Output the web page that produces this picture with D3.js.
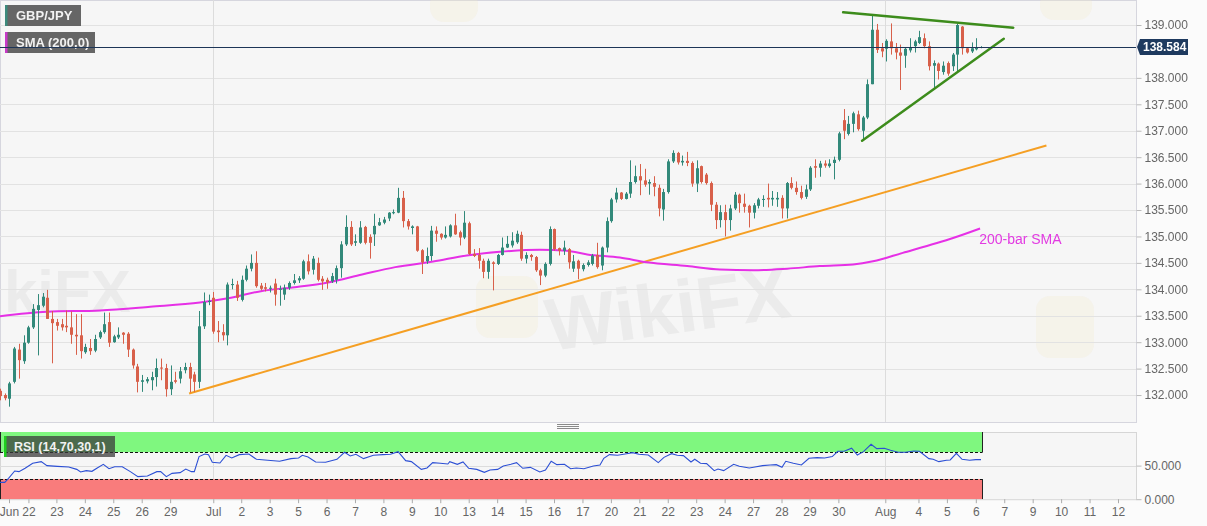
<!DOCTYPE html>
<html>
<head>
<meta charset="utf-8">
<title>GBP/JPY 4H</title>
<script src="https://cdn.jsdelivr.net/npm/d3@7"></script>
<style>
  body { margin: 0; background: #fbfbfb; }
  svg { display: block; font-family: Arial, "Liberation Sans", sans-serif; }
</style>
</head>
<body>
<svg id="chart" width="1207" height="526"></svg>
<script>
// 4H candles, [open, high, low, close]
const candles = [
  [132.08,132.12,131.90,131.98],[132.00,132.03,131.90,131.94],[131.93,132.25,131.78,132.22],[132.25,132.91,132.22,132.88],
  [132.86,132.97,132.31,132.66],[132.64,133.13,132.59,132.99],[132.99,133.31,132.97,133.28],[133.28,133.72,133.25,133.63],
  [133.61,133.91,132.75,133.70],[133.69,133.93,133.66,133.86],[133.84,133.99,133.44,133.44],[133.44,133.59,132.60,133.36],
  [133.38,133.44,133.22,133.31],[133.34,133.44,133.22,133.28],[133.31,133.60,133.19,133.28],[133.28,133.58,132.97,133.14],
  [133.14,133.53,132.76,133.11],[133.13,133.53,132.69,132.83],[132.81,132.97,132.78,132.91],[132.89,133.06,132.76,132.83],
  [132.84,133.14,132.81,133.06],[133.09,133.22,133.06,133.19],[133.19,133.56,133.16,133.34],[133.38,133.56,132.91,132.99],
  [133.00,133.14,132.99,133.11],[133.09,133.28,133.06,133.14],[133.18,133.19,132.97,133.14],[133.16,133.19,132.72,132.86],
  [132.86,132.88,132.50,132.56],[132.54,132.59,132.05,132.25],[132.25,132.38,132.06,132.28],[132.26,132.34,132.22,132.30],
  [132.28,132.44,132.09,132.34],[132.34,132.69,132.16,132.51],[132.52,132.69,132.28,132.50],[132.51,132.59,131.97,132.11],
  [132.11,132.56,132.00,132.25],[132.28,132.44,132.22,132.25],[132.31,132.53,132.22,132.45],[132.47,132.61,132.41,132.53],
  [132.53,132.61,132.05,132.31],[132.39,132.44,132.06,132.25],[132.25,133.59,132.13,133.30],[133.30,133.94,133.25,133.76],
  [133.76,133.90,133.70,133.78],[133.84,133.95,133.16,133.20],[133.22,133.40,133.00,133.19],[133.19,133.34,133.03,133.13],
  [133.13,134.13,132.94,134.09],[134.08,134.20,134.00,134.10],[134.09,134.16,133.78,133.84],[133.80,134.26,133.77,134.18],
  [134.18,134.45,134.15,134.39],[134.39,134.66,134.34,134.50],[134.50,134.72,134.03,134.06],[134.07,134.12,133.98,134.01],
  [134.04,134.12,133.96,134.01],[134.01,134.07,133.94,134.03],[134.11,134.20,133.69,133.90],[134.00,134.07,133.69,134.01],
  [133.90,134.09,133.80,134.03],[134.03,134.15,133.99,134.12],[134.12,134.29,134.09,134.17],[134.17,134.25,134.12,134.21],
  [134.20,134.56,134.18,134.53],[134.53,134.66,134.28,134.34],[134.37,134.63,134.28,134.58],[134.50,134.60,134.15,134.18],
  [134.20,134.25,133.99,134.15],[134.18,134.22,134.01,134.13],[134.15,134.31,134.12,134.25],[134.18,134.45,134.11,134.40],
  [134.40,134.91,134.22,134.85],[134.85,135.40,134.82,135.18],[135.18,135.29,134.82,134.85],[134.88,135.04,134.82,134.91],
  [134.88,135.29,134.86,135.17],[135.18,135.20,134.85,134.88],[134.99,135.04,134.58,134.88],[135.04,135.43,134.82,135.20],
  [135.21,135.35,135.20,135.27],[135.26,135.37,135.23,135.32],[135.34,135.46,135.29,135.45],[135.44,135.51,135.42,135.46],
  [135.45,135.92,135.44,135.73],[135.73,135.86,135.17,135.29],[135.29,135.33,135.13,135.19],[135.16,135.21,135.04,135.19],
  [135.19,135.20,134.71,134.73],[134.74,134.76,134.29,134.51],[134.53,134.79,134.48,134.63],[134.63,135.20,134.54,135.11],
  [135.11,135.19,134.90,135.05],[135.05,135.06,134.94,134.98],[134.98,135.19,134.96,135.03],[135.00,135.23,134.98,135.21],
  [135.21,135.43,135.03,135.04],[135.08,135.11,134.83,134.98],[134.98,135.48,134.95,135.26],[135.25,135.28,134.65,134.67],
  [134.67,134.76,134.61,134.63],[134.65,134.78,134.39,134.54],[134.54,134.58,134.21,134.33],[134.33,134.58,134.20,134.54],
  [134.51,134.53,133.98,134.48],[134.48,134.67,134.46,134.65],[134.65,134.98,134.64,134.79],[134.79,135.01,134.78,134.86],
  [134.83,135.08,134.79,134.92],[134.89,135.11,134.86,135.05],[135.03,135.09,134.54,134.58],[134.58,134.70,134.49,134.65],
  [134.65,134.67,134.54,134.61],[134.61,134.63,134.33,134.36],[134.36,134.39,134.08,134.26],[134.26,134.51,134.23,134.48],
  [134.48,135.19,134.45,135.14],[135.14,135.15,134.73,134.76],[134.78,134.79,134.64,134.73],[134.73,134.92,134.65,134.79],
  [134.76,134.78,134.39,134.51],[134.39,134.65,134.33,134.53],[134.54,134.56,134.19,134.39],[134.38,134.49,134.34,134.46],
  [134.46,134.55,134.43,134.51],[134.48,134.67,134.45,134.64],[134.65,134.88,134.39,134.42],[134.45,134.81,134.36,134.79],
  [134.79,135.36,134.70,135.29],[135.29,135.73,135.26,135.70],[135.70,135.92,135.64,135.83],[135.83,135.84,135.69,135.71],
  [135.71,135.84,135.70,135.81],[135.81,136.44,135.73,136.03],[136.03,136.34,136.00,136.14],[136.14,136.37,135.78,136.06],
  [136.06,136.28,135.94,135.98],[136.00,136.08,135.79,136.03],[136.01,136.14,135.76,135.94],[135.92,135.98,135.38,135.53],
  [135.51,135.90,135.30,135.84],[135.84,136.46,135.81,136.42],[136.42,136.63,136.39,136.58],[136.58,136.60,136.36,136.40],
  [136.40,136.53,136.34,136.43],[136.43,136.60,136.33,136.39],[136.39,136.42,135.94,136.00],[136.00,136.44,135.84,136.29],
  [136.33,136.34,136.00,136.03],[136.17,136.20,135.98,136.01],[136.01,136.04,135.48,135.60],[135.60,135.65,135.14,135.31],
  [135.31,135.59,135.17,135.46],[135.46,135.60,135.00,135.31],[135.31,135.60,135.11,135.53],[135.53,135.84,135.50,135.79],
  [135.79,135.81,135.45,135.63],[135.62,135.81,135.45,135.56],[135.58,135.60,135.17,135.45],[135.45,135.63,135.34,135.59],
  [135.58,135.73,135.53,135.70],[135.69,135.78,135.56,135.71],[135.73,136.00,135.55,135.70],[135.70,135.86,135.58,135.73],
  [135.70,135.84,135.56,135.73],[135.73,135.78,135.34,135.53],[135.53,136.03,135.34,136.01],[136.01,136.12,135.89,135.92],
  [135.92,136.04,135.79,135.84],[135.84,135.96,135.70,135.73],[135.75,135.98,135.71,135.89],[135.89,136.33,135.86,136.30],
  [136.33,136.46,136.11,136.30],[136.30,136.43,136.13,136.38],[136.38,136.44,136.30,136.34],[136.33,136.46,136.30,136.38],
  [136.39,136.51,136.08,136.45],[136.45,136.98,136.42,136.95],[137.20,137.41,136.84,137.00],[136.94,137.28,136.91,137.13],
  [137.13,137.36,136.97,137.33],[137.31,137.38,137.00,137.03],[137.00,137.28,136.84,137.25],[137.25,137.97,137.22,137.88],
  [137.88,139.19,137.88,138.91],[138.91,139.02,138.47,138.53],[138.56,138.66,138.39,138.50],[138.55,138.73,138.31,138.70],
  [138.69,139.03,138.44,138.56],[138.56,138.66,138.35,138.48],[138.48,138.63,137.77,138.42],[138.42,138.58,138.19,138.55],
  [138.52,138.75,138.48,138.58],[138.60,138.72,138.48,138.69],[138.66,138.89,138.64,138.77],[138.75,138.84,138.56,138.60],
  [138.60,138.69,138.14,138.22],[138.23,138.33,137.81,138.28],[138.27,138.29,137.97,138.13],[138.11,138.31,138.06,138.23],
  [138.28,138.31,138.04,138.08],[138.22,138.47,138.13,138.44],[138.44,139.03,138.13,139.00],[138.97,138.98,138.44,138.56],
  [138.56,138.58,138.46,138.48],[138.50,138.67,138.47,138.56],[138.54,138.75,138.52,138.58],[138.58,138.60,138.56,138.584]
];

// 200-bar SMA, [bar, value]
const sma200 = [
  [0,133.49],[9.9,133.575],[21.1,133.6],[31.7,133.67],[42.2,133.75],[48.1,133.83],[55.3,133.97],[62.2,134.04],
  [69.2,134.13],[76.4,134.28],[83.4,134.42],[91.4,134.525],[98.5,134.64],[105.5,134.71],[113.9,134.75],[119.6,134.73],
  [123.9,134.66],[130.8,134.6],[136.5,134.51],[145.0,134.44],[151.9,134.375],[158.9,134.36],[166.1,134.39],[173.0,134.44],
  [180.0,134.47],[184.2,134.53],[190.5,134.69],[197.7,134.875],[201.1,134.97],[206.8,135.15]
];

// RSI(14), [bar, value]
const rsi = [
  [0,25.1],[1.0,25.1],[1.8,31.1],[3.1,42.0],[4.0,41.0],[5.3,46.0],[6.9,53.4],[8.7,55.9],[9.9,49.9],[12.1,48.9],
  [14.5,47.9],[16.2,44.4],[17.0,40.5],[18.2,42.5],[19.4,41.5],[20.6,46.9],[21.8,51.9],[23.0,45.4],[24.2,48.4],[25.8,48.4],
  [27.5,41.0],[29.1,33.6],[31.1,34.6],[33.1,41.0],[33.9,41.0],[35.1,33.6],[36.3,38.5],[38.0,39.5],[39.2,44.9],[40.4,41.0],
  [41.0,41.0],[42.0,63.4],[43.2,67.3],[44.0,66.3],[44.8,54.9],[46.4,53.9],[47.7,65.3],[48.9,61.4],[50.5,66.3],[52.5,67.3],
  [54.1,59.4],[56.5,57.9],[59.0,56.4],[61.4,60.4],[63.0,61.4],[63.8,65.3],[65.0,62.8],[66.6,55.4],[68.7,54.9],[71.1,59.4],
  [72.7,69.8],[73.9,64.4],[75.1,66.8],[76.7,60.4],[78.8,65.3],[80.8,66.3],[82.4,66.8],[84.0,70.8],[85.6,57.4],[86.8,55.9],
  [88.9,44.4],[90.1,46.4],[91.3,54.4],[92.9,53.4],[94.5,52.4],[94.9,55.9],[96.5,51.9],[97.7,55.4],[98.9,46.0],[100.6,44.4],
  [102.2,40.0],[103.4,43.5],[105.0,44.4],[106.2,49.4],[107.8,51.9],[109.0,54.4],[110.3,46.0],[111.9,47.4],[113.9,40.5],[115.1,43.5],
  [116.3,56.4],[117.5,51.4],[119.1,51.9],[120.4,45.4],[121.6,46.4],[123.2,45.4],[125.2,49.4],[126.6,50.9],[127.4,60.9],[128.6,66.3],
  [130.3,65.3],[131.9,67.3],[133.5,69.3],[134.8,66.8],[136.8,65.8],[138.9,54.4],[140.1,62.3],[141.7,67.8],[142.9,65.3],[144.2,64.8],
  [145.8,55.4],[146.6,59.4],[147.8,53.4],[149.1,52.9],[150.7,42.5],[151.5,44.9],[152.7,42.5],[154.8,51.9],[156.0,48.9],[158.1,46.4],
  [159.3,47.9],[160.9,49.9],[162.5,50.9],[163.8,51.4],[165.0,47.4],[165.8,56.4],[167.4,53.4],[169.1,50.9],[170.7,60.9],[172.4,61.9],
  [174.0,61.4],[175.6,63.4],[176.8,71.3],[178.1,71.3],[179.7,75.8],[180.9,65.8],[182.2,70.8],[183.8,81.7],[185.0,75.3],[186.6,75.8],
  [187.9,72.8],[189.5,69.8],[191.1,69.8],[192.8,71.8],[194.0,71.3],[196.0,60.4],[196.9,59.4],[198.1,55.9],[199.7,57.9],[200.5,58.4],
  [201.8,68.3],[203.0,59.4],[204.6,57.9],[205.9,58.9],[207.0,58.9]
];

const priceTicks = [132, 132.5, 133, 133.5, 134, 134.5, 135, 135.5, 136, 136.5, 137, 137.5, 138, 139];
const rsiTicks = [0, 50];
const rsiLevels = [70, 30];
const lastPrice = 138.584;

// session labels on the time axis, [label, bar position]
const timeTicks = [
  ["Jun",1.9],["22",6.0],["23",11.9],["24",17.9],["25",23.9],["26",29.9],["29",35.9],["Jul",45.0],["2",50.9],["3",56.9],
  ["5",62.9],["6",68.9],["7",74.9],["8",80.9],["9",86.9],["10",92.9],["13",98.9],["14",104.9],["15",110.9],["16",116.9],
  ["17",122.9],["20",128.9],["21",134.9],["22",140.9],["23",146.9],["24",152.9],["27",158.9],["28",164.9],["29",170.8],["30",176.9],
  ["Aug",186.8],["4",193.8],["5",199.8],["6",205.9],["7",211.9],["9",217.9],["10",223.9],["11",229.9],["12",235.9]
];
const monthStarts = [45.0, 186.8];

// drawn trend lines, [bar, price]
const supportLine = [[39.9,132.03],[220.8,136.72]];
const triangleTop = [[177.9,139.24],[213.8,138.95]];
const triangleBottom = [[181.9,136.81],[211.8,138.74]];

const W = 1136, mainH = 422, rsiTop = 432, rsiBot = 499.2;
const UP = "#32897a", DOWN = "#d8604a";

const svg = d3.select("#chart");
const x = d3.scaleLinear().domain([0, 239.7]).range([0, W]);
const y = d3.scaleLinear().domain([131.49, 139.473]).range([mainH, 0]);
const yr = d3.scaleLinear().domain([0, 100]).range([rsiBot, rsiTop]);

svg.append("rect").attr("width", 1207).attr("height", 526).attr("fill", "#fbfbfb");

const defs = svg.append("defs");
defs.append("clipPath").attr("id", "clipMain").append("rect").attr("width", W).attr("height", mainH);
defs.append("clipPath").attr("id", "clipRsi").append("rect").attr("y", rsiTop).attr("width", W).attr("height", rsiBot - rsiTop);

// panels
svg.append("rect").attr("x", 0.5).attr("y", 0.5).attr("width", W).attr("height", mainH)
  .attr("fill", "#f6f6f6").attr("stroke", "#d6d6de");
svg.append("rect").attr("x", 0.5).attr("y", rsiTop + 0.5).attr("width", W).attr("height", rsiBot - rsiTop)
  .attr("fill", "#f6f6f6").attr("stroke", "#d6d6d6");

const main = svg.append("g").attr("clip-path", "url(#clipMain)");
const low = svg.append("g").attr("clip-path", "url(#clipRsi)");

// faint watermark
const wm = main.append("g").attr("opacity", 0.45);
[[430, -10, 48, 32], [1040, -10, 52, 30], [1036, 296, 58, 62], [476, 276, 62, 62]].forEach(r => {
  wm.append("rect").attr("x", r[0]).attr("y", r[1]).attr("width", r[2]).attr("height", r[3])
    .attr("rx", 14).attr("fill", "#f3e7c6").attr("opacity", 0.55);
});
wm.append("text").attr("x", 545).attr("y", 338).attr("font-size", 74).attr("font-weight", "bold")
  .attr("fill", "#dedede").attr("transform", "rotate(-8 640 310)").text("WikiFX");
wm.append("text").attr("x", 4).attr("y", 312).attr("font-size", 60).attr("font-weight", "bold")
  .attr("fill", "#dedede").text("kiFX");

// grid
main.selectAll(".hg").data(priceTicks).join("line")
  .attr("x1", 0).attr("x2", W).attr("y1", d => Math.round(y(d)) + 0.5).attr("y2", d => Math.round(y(d)) + 0.5)
  .attr("stroke", "#e2e2e2");
main.selectAll(".vg").data(monthStarts).join("line")
  .attr("x1", d => Math.round(x(d)) + 0.5).attr("x2", d => Math.round(x(d)) + 0.5).attr("y1", 0).attr("y2", mainH)
  .attr("stroke", "#dcdcdc");

// trend lines
const line = d3.line().x(d => x(d[0])).y(d => y(d[1]));
main.append("path").attr("d", line(supportLine)).attr("stroke", "#f59f23").attr("stroke-width", 2).attr("fill", "none");

// SMA
main.append("path").datum(sma200).attr("d", line.curve(d3.curveMonotoneX))
  .attr("stroke", "#e630e6").attr("stroke-width", 2).attr("fill", "none");
line.curve(d3.curveLinear);

// candles
const cg = main.append("g");
cg.selectAll("line").data(candles).join("line")
  .attr("x1", (d, i) => Math.round(x(i)) + 0.5).attr("x2", (d, i) => Math.round(x(i)) + 0.5)
  .attr("y1", d => y(d[1])).attr("y2", d => y(d[2]))
  .attr("stroke", d => d[3] >= d[0] ? UP : DOWN).attr("stroke-width", 1);
cg.selectAll("rect").data(candles).join("rect")
  .attr("x", (d, i) => Math.round(x(i)) - 1)
  .attr("width", 3)
  .attr("y", d => y(Math.max(d[0], d[3])))
  .attr("height", d => Math.max(1, Math.abs(y(d[0]) - y(d[3]))))
  .attr("fill", d => d[3] >= d[0] ? UP : DOWN);

// triangle
[triangleTop, triangleBottom].forEach(t => {
  main.append("path").attr("d", line(t)).attr("stroke", "#3d8c1c").attr("stroke-width", 2.5)
    .attr("fill", "none").attr("stroke-linecap", "round");
});

// last price line
main.append("line").attr("x1", 0).attr("x2", W)
  .attr("y1", Math.round(y(lastPrice)) + 0.5).attr("y2", Math.round(y(lastPrice)) + 0.5)
  .attr("stroke", "#1d3557").attr("stroke-width", 1);

main.append("text").attr("x", x(206.6)).attr("y", 244).attr("font-size", 14)
  .attr("fill", "#e23be2").text("200-bar SMA");

// legends
function legend(g, yy, w, strip, label) {
  g.append("rect").attr("x", 5).attr("y", yy).attr("width", w).attr("height", 21).attr("fill", "#5e5e5e").attr("opacity", 0.95);
  g.append("rect").attr("x", 5).attr("y", yy).attr("width", 2.5).attr("height", 21).attr("fill", strip);
  g.append("text").attr("x", 16).attr("y", yy + 15).attr("font-size", 13).attr("font-weight", "bold")
    .attr("fill", "#f2f2f2").text(label);
}
const lg = svg.append("g");
legend(lg, 5, 76, "#3c8a7c", "GBP/JPY");
legend(lg, 32, 90, "#c83ac8", "SMA (200,0)");
lg.append("line").attr("x1", 5).attr("x2", 95).attr("y1", Math.round(y(lastPrice)) + 0.5).attr("y2", Math.round(y(lastPrice)) + 0.5)
  .attr("stroke", "#1d3557");

// price axis
const pa = svg.append("g").attr("transform", `translate(${W + 0.5},0)`)
  .call(d3.axisRight(y).tickValues(priceTicks).tickFormat(d3.format(".3f")).tickSize(5).tickPadding(3));
pa.select(".domain").remove();
pa.selectAll("line").attr("stroke", "#bbb");
pa.selectAll("text").attr("fill", "#666").attr("font-size", 12).attr("font-family", "Arial, 'Liberation Sans', sans-serif");

// last price tag
const ly = y(lastPrice);
svg.append("path")
  .attr("d", `M${W + 1},${ly} L${W + 4},${ly - 8} L${W + 52},${ly - 8} L${W + 52},${ly + 8} L${W + 4},${ly + 8} Z`)
  .attr("fill", "#1e3a5f");
svg.append("text").attr("x", W + 7).attr("y", ly + 4.5).attr("font-size", 12).attr("font-weight", "bold")
  .attr("fill", "#fff").text(d3.format(".3f")(lastPrice));

// separator handle
[424.5, 426.5, 428.5].forEach(v => {
  svg.append("line").attr("x1", 557).attr("x2", 579).attr("y1", v).attr("y2", v).attr("stroke", "#8a8a8a");
});

// RSI panel
const endX = Math.round(x(candles.length - 1)) + 1.5;
low.selectAll(".vg").data(monthStarts).join("line")
  .attr("x1", d => Math.round(x(d)) + 0.5).attr("x2", d => Math.round(x(d)) + 0.5).attr("y1", rsiTop).attr("y2", rsiBot)
  .attr("stroke", "#dcdcdc");
low.append("line").attr("x1", 0).attr("x2", W).attr("y1", Math.round(yr(50)) + 0.5).attr("y2", Math.round(yr(50)) + 0.5)
  .attr("stroke", "#dcdcdc");
low.append("rect").attr("x", 0).attr("y", yr(100)).attr("width", endX).attr("height", yr(70) - yr(100))
  .attr("fill", "#7ff77f");
low.append("rect").attr("x", 0).attr("y", yr(30)).attr("width", endX).attr("height", yr(0) - yr(30))
  .attr("fill", "#f97c7c");
low.selectAll(".lv").data(rsiLevels).join("line")
  .attr("x1", 0).attr("x2", endX).attr("y1", d => Math.round(yr(d)) + 0.5).attr("y2", d => Math.round(yr(d)) + 0.5)
  .attr("stroke", "#111").attr("stroke-dasharray", "3,2");
[[100, 70], [30, 0]].forEach(z => {
  [0.5, endX].forEach(xx => {
    low.append("line").attr("x1", xx).attr("x2", xx).attr("y1", yr(z[0])).attr("y2", yr(z[1]))
      .attr("stroke", "#222").attr("stroke-width", 1);
  });
});
low.append("path").datum(rsi).attr("d", d3.line().x(d => x(d[0])).y(d => yr(d[1])))
  .attr("stroke", "#2c4fd4").attr("stroke-width", 1.1).attr("fill", "none");

const rl = svg.append("g");
rl.append("rect").attr("x", 4).attr("y", 436).attr("width", 111).attr("height", 21).attr("fill", "#3b3b3b").attr("opacity", 0.75);
rl.append("rect").attr("x", 4).attr("y", 436).attr("width", 2.5).attr("height", 21).attr("fill", "#1fcf1f");
rl.append("text").attr("x", 14).attr("y", 451).attr("font-size", 12.5).attr("font-weight", "bold")
  .attr("fill", "#f2f2f2").text("RSI (14,70,30,1)");

const ra = svg.append("g").attr("transform", `translate(${W + 0.5},0)`)
  .call(d3.axisRight(yr).tickValues(rsiTicks).tickFormat(d3.format(".3f")).tickSize(5).tickPadding(3));
ra.select(".domain").remove();
ra.selectAll("line").attr("stroke", "#bbb");
ra.selectAll("text").attr("fill", "#666").attr("font-size", 12).attr("font-family", "Arial, 'Liberation Sans', sans-serif");

// time axis
const ta = svg.append("g").attr("transform", `translate(0,${rsiBot})`)
  .call(d3.axisBottom(x).tickValues(timeTicks.map(d => d[1]))
    .tickFormat((d, i) => timeTicks[i][0]).tickSize(4).tickPadding(4));
ta.select(".domain").remove();
ta.selectAll("line").attr("stroke", "#aaa");
ta.selectAll("text").attr("fill", "#666").attr("font-size", 12).attr("font-family", "Arial, 'Liberation Sans', sans-serif");
</script>
</body>
</html>
